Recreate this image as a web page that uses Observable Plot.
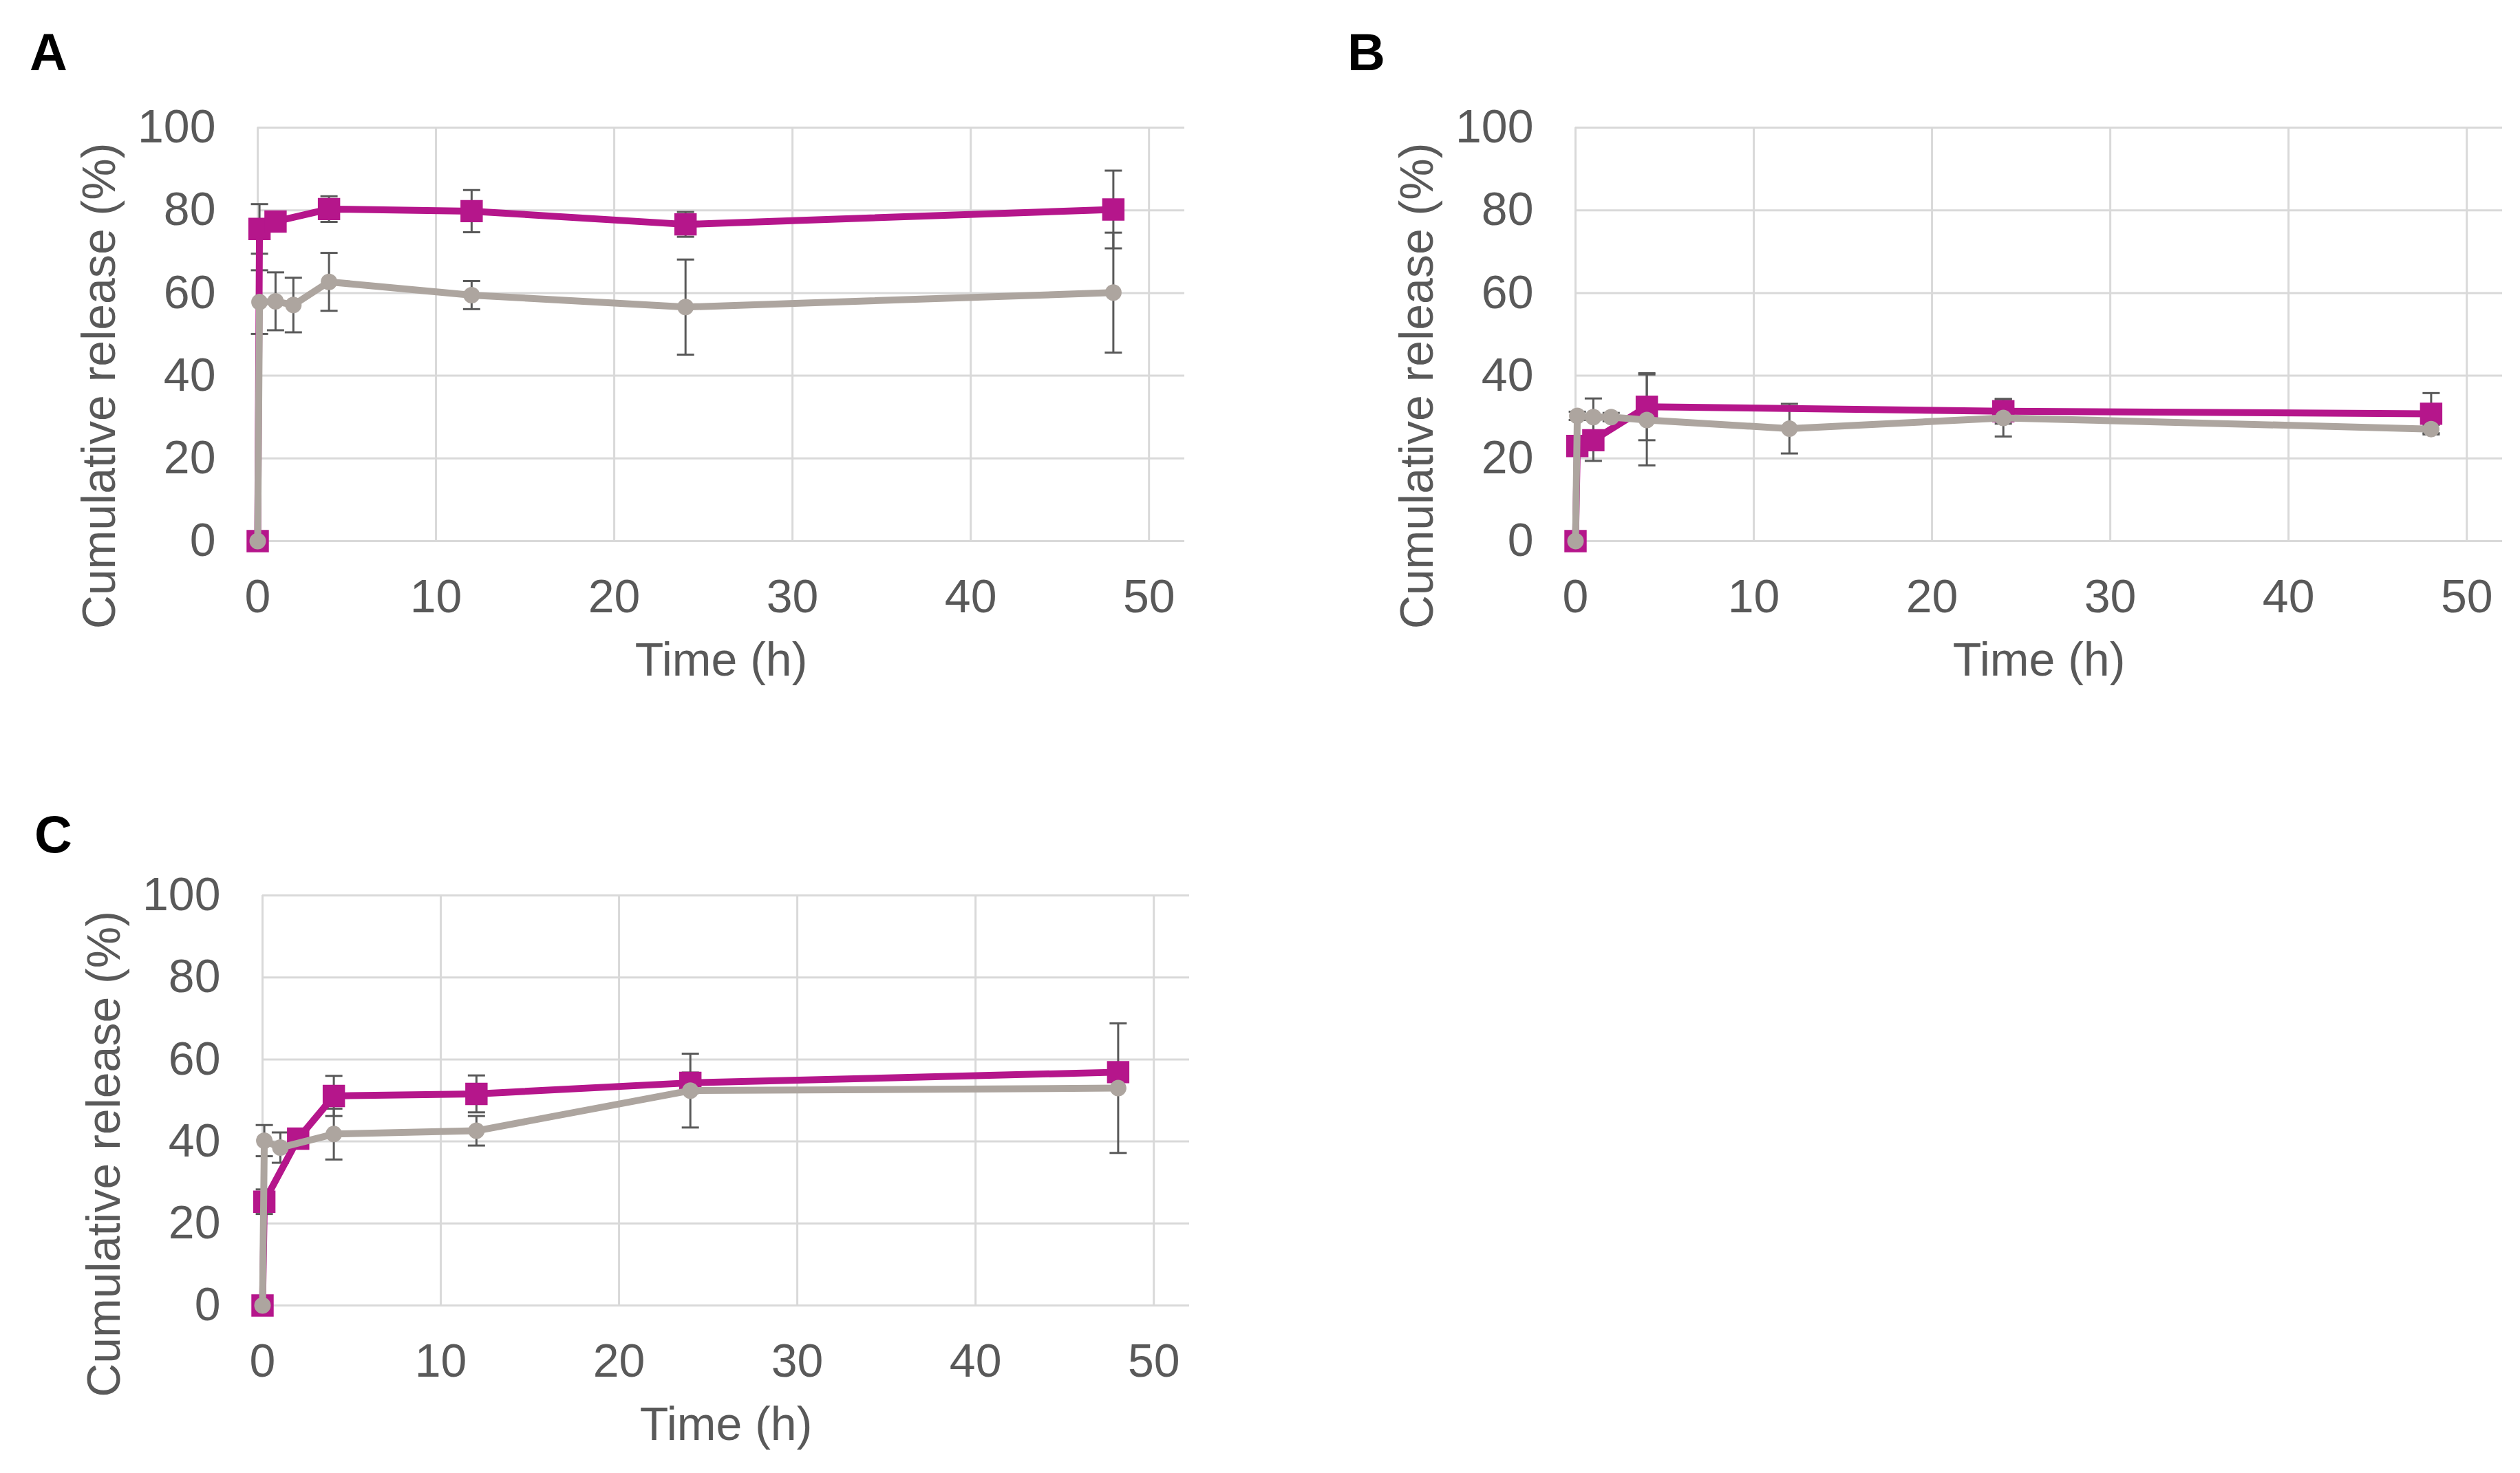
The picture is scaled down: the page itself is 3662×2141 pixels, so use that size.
<!DOCTYPE html>
<html><head><meta charset="utf-8">
<script src="https://cdn.jsdelivr.net/npm/d3@7"></script>
<script src="https://cdn.jsdelivr.net/npm/@observablehq/plot@0.6"></script>
<style>
html,body{margin:0;padding:0;background:#fff;}
#root{position:relative;width:3662px;height:2141px;overflow:hidden;background:#fff;}
.panel{position:absolute;}
</style></head><body><div id="root"></div>
<script>
// ---- tick labels & titles ----
const xTicks = [0, 10, 20, 30, 40, 50];
const yTicks = [0, 20, 40, 60, 80, 100];
const xLabel = "Time (h)";
const yLabel = "Cumulative release (%)";
const panelLetters = ["A", "B", "C"];

// ---- Panel A ----
const timeA_mag = [0, 0.1, 1, 4, 12, 24, 48];
const relA_mag  = [0, 75.5, 77.3, 80.3, 79.8, 76.6, 80.2];
const sdA_mag   = [0, 6.0, 1.0, 3.1, 5.1, 3.0, 9.4];
const timeA_gry = [0, 0.1, 1, 2, 4, 12, 24, 48];
const relA_gry  = [0, 57.8, 58.0, 57.1, 62.7, 59.5, 56.6, 60.1];
const sdA_gry   = [0, 7.7, 7.0, 6.6, 7.0, 3.4, 11.5, 14.5];

// ---- Panel B ----
const timeB_mag = [0, 0.1, 1, 4, 24, 48];
const relB_mag  = [0, 23.0, 24.4, 32.5, 31.4, 30.8];
const sdB_mag   = [0, 1.0, 5.0, 8.1, 3.0, 5.0];
const timeB_gry = [0, 0.1, 1, 2, 4, 12, 24, 48];
const relB_gry  = [0, 30.3, 30.0, 30.0, 29.3, 27.2, 29.8, 27.1];
const sdB_gry   = [0, 1.0, 4.5, 1.0, 11.0, 6.0, 4.5, 1.0];

// ---- Panel C ----
const timeC_mag = [0, 0.1, 2, 4, 12, 24, 48];
const relC_mag  = [0, 25.3, 40.7, 51.1, 51.6, 54.3, 56.9];
const sdC_mag   = [0, 3.0, 1.0, 4.9, 4.5, 2.5, 1.5];
const timeC_gry = [0, 0.1, 1, 4, 12, 24, 48];
const relC_gry  = [0, 40.2, 38.5, 41.8, 42.6, 52.4, 53.0];
const sdC_gry   = [0, 3.8, 3.7, 6.2, 3.6, 9.0, 15.8];

const MAG = "#B5168B";
const GRY = "#ADA59F";
const ERR = "#595959";
const GRID = "#D9D9D9";
const TXT = "#595959";
const FONT = "'Liberation Sans', Arial, sans-serif";

function rows(t, v, e) { return t.map((d, i) => ({t: d, v: v[i], e: e[i]})); }

const capSymbol = {
  draw(context, size) {
    const w = Math.sqrt(size / Math.PI);
    context.moveTo(-w, 0);
    context.lineTo(w, 0);
  }
};

const panels = [
  {letter: panelLetters[0], left: 0, top: 0, width: 1800, height: 1050,
   mL: 374, mR: 79, mT: 185, mB: 264, letterDy: -108, ylabDy: 75,
   mag: rows(timeA_mag, relA_mag, sdA_mag), gry: rows(timeA_gry, relA_gry, sdA_gry)},
  {letter: panelLetters[1], left: 1900, top: 0, width: 1762, height: 1050,
   mL: 389, mR: 26, mT: 185, mB: 264, letterDy: -108, ylabDy: 75,
   mag: rows(timeB_mag, relB_mag, sdB_mag), gry: rows(timeB_gry, relB_gry, sdB_gry)},
  {letter: panelLetters[2], left: 0, top: 1100, width: 1800, height: 1041,
   mL: 381, mR: 72, mT: 201, mB: 244, letterDy: -87, ylabDy: 78,
   mag: rows(timeC_mag, relC_mag, sdC_mag), gry: rows(timeC_gry, relC_gry, sdC_gry)}
];

const root = document.getElementById("root");

for (const p of panels) {
  const errRows = [...p.mag, ...p.gry].filter(d => d.e > 0);
  const capRows = errRows.flatMap(d => [{t: d.t, y: d.v - d.e}, {t: d.t, y: d.v + d.e}]);
  const chart = Plot.plot({
    width: p.width,
    height: p.height,
    marginLeft: p.mL, marginRight: p.mR, marginTop: p.mT, marginBottom: p.mB,
    style: {fontFamily: FONT, fontSize: "68px", color: TXT, background: "transparent", overflow: "visible"},
    x: {domain: [0, 52]},
    y: {domain: [0, 100]},
    marks: [
      Plot.gridX(xTicks, {stroke: GRID, strokeOpacity: 1, strokeWidth: 3}),
      Plot.gridY(yTicks, {stroke: GRID, strokeOpacity: 1, strokeWidth: 3}),
      Plot.axisX(xTicks, {tickSize: 0, tickPadding: 55, label: null, fontSize: 68, fill: TXT}),
      Plot.axisY(yTicks, {tickSize: 0, tickPadding: 61, label: null, fontSize: 68, fill: TXT}),
      Plot.ruleX(errRows, {x: "t", y1: d => d.v - d.e, y2: d => d.v + d.e, stroke: ERR, strokeWidth: 3}),
      Plot.dot(capRows, {x: "t", y: "y", symbol: capSymbol, r: 12.5, stroke: ERR, strokeWidth: 3, fill: "none"}),
      Plot.line(p.mag, {x: "t", y: "v", stroke: MAG, strokeWidth: 10}),
      Plot.dot(p.mag, {x: "t", y: "v", symbol: "square", r: 18.3, fill: MAG, stroke: "none"}),
      Plot.line(p.gry, {x: "t", y: "v", stroke: GRY, strokeWidth: 10}),
      Plot.dot(p.gry, {x: "t", y: "v", symbol: "circle", r: 12, fill: GRY, stroke: "none"}),
      Plot.text([xLabel], {text: d => d, frameAnchor: "bottom", dy: 174, textAnchor: "middle", lineAnchor: "middle", fontSize: 68, fill: TXT}),
      Plot.text([yLabel], {text: d => d, frameAnchor: "left", dx: -229, dy: p.ylabDy, rotate: -90, textAnchor: "middle", lineAnchor: "middle", fontSize: 68, fill: TXT}),
      Plot.text([p.letter], {text: d => d, frameAnchor: "top-left", dx: -304, dy: p.letterDy, textAnchor: "middle", lineAnchor: "middle", fontSize: 76, fontWeight: "bold", fill: "#000"})
    ]
  });
  const div = document.createElement("div");
  div.className = "panel";
  div.style.left = p.left + "px";
  div.style.top = p.top + "px";
  div.appendChild(chart);
  root.appendChild(div);
}
</script>
</body></html>
